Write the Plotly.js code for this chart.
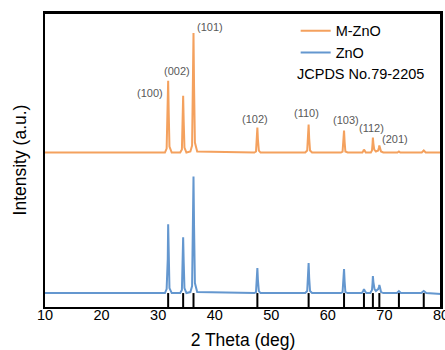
<!DOCTYPE html>
<html>
<head>
<meta charset="utf-8">
<script src="https://cdn.plot.ly/plotly-3.0.1.min.js"></script>
<style>html,body{margin:0;padding:0;background:#fff;}#chart{width:445px;height:350px;}</style>
</head>
<body>
<div id="chart"></div>
<script>
// M-ZnO pattern (2θ, intensity a.u.)
const mznoX = [10, 31.2, 31.5, 31.7, 31.77, 31.87, 32.0, 32.4,
  33.9, 34.2, 34.35, 34.42, 34.52, 34.65, 35.0,
  35.7, 36.0, 36.17, 36.25, 36.35, 36.5, 36.9,
  47.0, 47.3, 47.46, 47.54, 47.64, 47.8, 48.1,
  56.0, 56.35, 56.52, 56.6, 56.7, 56.85, 57.2,
  62.3, 62.6, 62.78, 62.86, 62.96, 63.1, 63.5,
  66.1, 66.3, 66.38, 66.5, 66.7,
  67.6, 67.8, 67.9, 67.96, 68.05, 68.2,
  68.5, 68.9, 69.03, 69.1, 69.2, 69.4, 69.8,
  72.3, 72.56, 72.8,
  76.6, 76.95, 77.3, 80];
const mznoY = [155, 155, 159, 195, 227, 195, 161, 155,
  155, 158, 186, 212, 186, 160, 155,
  156, 162, 221, 275, 221, 165, 156,
  155, 156, 168, 180, 168, 157, 155,
  155, 157, 169, 183, 169, 157, 155,
  155, 156, 166, 177, 166, 156, 155,
  155, 157, 158, 157, 155,
  155, 157, 164, 170, 164, 158,
  156, 157, 160, 162, 160, 156, 155,
  155, 156, 155,
  155, 157, 155, 155];

// ZnO pattern
const znoX = [10, 31.2, 31.5, 31.7, 31.77, 31.87, 32.0, 32.4,
  33.9, 34.2, 34.35, 34.42, 34.52, 34.65, 35.0,
  35.7, 36.0, 36.17, 36.25, 36.35, 36.5, 36.9,
  47.0, 47.3, 47.46, 47.54, 47.64, 47.8, 48.1,
  56.0, 56.35, 56.52, 56.6, 56.7, 56.85, 57.2,
  62.3, 62.6, 62.78, 62.86, 62.96, 63.1, 63.5,
  66.0, 66.25, 66.38, 66.55, 66.8,
  67.5, 67.8, 67.9, 67.96, 68.05, 68.25,
  68.5, 68.9, 69.03, 69.1, 69.2, 69.4, 69.8,
  72.2, 72.56, 72.9,
  76.5, 76.95, 77.4, 80];
const znoY = [14, 14, 18, 48, 83, 50, 19, 14,
  14, 17, 44, 70, 45, 19, 14,
  15, 21, 80, 131, 80, 24, 15,
  14, 15, 27, 39, 27, 16, 14,
  14, 16, 29, 44, 29, 16, 14,
  14, 15, 26, 38, 26, 15, 14,
  14, 16, 18, 16, 14,
  14, 17, 24, 31, 25, 18,
  16, 18, 20, 22, 20, 15, 14,
  14, 16, 14,
  14, 16, 14, 13];

// JCPDS No.79-2205 reference positions
const jcpdsPos = [31.77, 34.42, 36.25, 47.54, 56.6, 62.86, 66.38, 67.96, 69.1, 72.56, 76.95];
const jcpdsHeight = 14;

// Peak labels
const hklLabels = ['(100)', '(002)', '(101)', '(102)', '(110)', '(103)', '(112)', '(201)'];
const hklX = [28.5, 33.3, 39.2, 47.2, 56.2, 63.2, 67.8, 71.9];
const hklY = [215, 237, 281, 189, 195, 188, 180, 169];

// x tick labels
const xTicks = [10, 20, 30, 40, 50, 60, 70, 80];

const refX = [], refY = [];
jcpdsPos.forEach(p => { refX.push(p, p, null); refY.push(0, jcpdsHeight, null); });

const traces = [
  {x: mznoX, y: mznoY, type: 'scatter', mode: 'lines', name: 'M-ZnO',
   line: {color: '#F4A15E', width: 2}},
  {x: znoX, y: znoY, type: 'scatter', mode: 'lines', name: 'ZnO',
   line: {color: '#6497CF', width: 2}},
  {x: refX, y: refY, type: 'scatter', mode: 'lines', name: 'JCPDS',
   line: {color: '#000', width: 2}, showlegend: false}
];

const annotations = hklLabels.map((t, i) => ({
  x: hklX[i], y: hklY[i], xref: 'x', yref: 'y', text: t, showarrow: false,
  font: {family: 'Liberation Sans, Arial', size: 11, color: '#595959'}
}));
annotations.push({
  x: 0.632, y: 0.793, xref: 'paper', yref: 'paper', xanchor: 'left', yanchor: 'middle',
  text: 'JCPDS No.79-2205', showarrow: false,
  font: {family: 'Liberation Sans, Arial', size: 14.5, color: '#000'}
});

const layout = {
  width: 445, height: 350,
  margin: {l: 45, r: 4, t: 13, b: 43},
  paper_bgcolor: '#fff', plot_bgcolor: '#fff',
  font: {family: 'Liberation Sans, Arial', color: '#000'},
  showlegend: true,
  legend: {x: 0.633, y: 0.994, xanchor: 'left', yanchor: 'top',
    bgcolor: 'rgba(0,0,0,0)', font: {size: 14.5, color: '#000'},
    tracegroupgap: 0, itemwidth: 30},
  xaxis: {range: [10, 80], tickmode: 'array', tickvals: xTicks, ticktext: xTicks.map(String),
    showgrid: false, zeroline: false, ticklabeloverflow: 'allow',
    showline: true, linecolor: '#000', linewidth: 2, mirror: true, ticks: '', ticklabelstandoff: -6,
    tickfont: {size: 14.5, color: '#000'},
    title: {text: '2 Theta (deg)', font: {size: 17.5, color: '#000'}, standoff: 13}},
  yaxis: {range: [0, 295], showgrid: false, zeroline: false, showticklabels: false,
    showline: true, linecolor: '#000', linewidth: 2, mirror: true, ticks: '',
    title: {text: 'Intensity (a.u.)', font: {size: 17.5, color: '#000'}, standoff: 12}},
  shapes: [{type: 'line', xref: 'paper', yref: 'paper', x0: 0, x1: 1, y0: 1, y1: 1,
    line: {color: '#000', width: 2}, layer: 'above'},
    {type: 'line', xref: 'paper', yref: 'paper', x0: 1, x1: 1, y0: 0, y1: 1,
    line: {color: '#000', width: 2}, layer: 'above'}],
  annotations: annotations
};

Plotly.newPlot('chart', traces, layout, {displayModeBar: false});
</script>
</body>
</html>
